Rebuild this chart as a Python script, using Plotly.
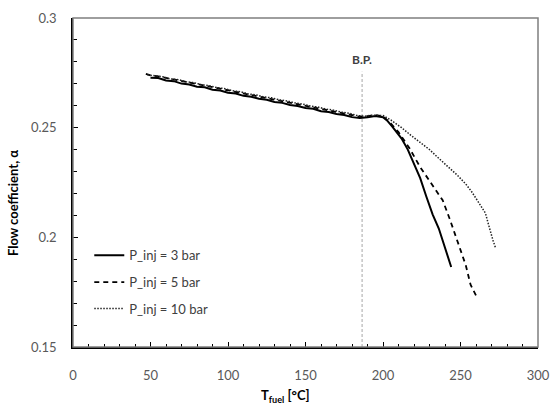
import plotly.graph_objects as go

# ---- data ----
t_3bar = [50, 55, 60, 65, 70, 75, 80, 85, 90, 95, 100, 105, 110, 115, 120, 125, 130, 135, 140,
          145, 150, 155, 160, 165, 170, 175, 180, 185, 190, 195, 200, 203, 206, 209, 212, 216,
          220, 224, 228, 232, 236, 239, 242, 244]
a_3bar = [0.2728, 0.2726, 0.2715, 0.2712, 0.2701, 0.2697, 0.2687, 0.2684, 0.2673, 0.2669,
          0.2659, 0.2656, 0.2645, 0.2641, 0.2632, 0.2627, 0.2617, 0.2613, 0.2603, 0.2599,
          0.2590, 0.2586, 0.2575, 0.2571, 0.2562, 0.2558, 0.2548, 0.2544, 0.2548, 0.2553,
          0.2548, 0.2530, 0.2505, 0.2478, 0.2450, 0.2400, 0.2335, 0.2270, 0.2185, 0.2105,
          0.2040, 0.1975, 0.1910, 0.1865]

t_5bar = [47, 50, 55, 60, 65, 70, 75, 80, 85, 90, 95, 100, 105, 110, 115, 120, 125, 130, 135,
          140, 145, 150, 155, 160, 165, 170, 175, 180, 185, 190, 195, 200, 205, 210, 217, 224,
          231, 238.5, 243, 247, 250, 253.4, 256.5, 259, 260.8]
a_5bar = [0.2745, 0.2738, 0.2734, 0.2727, 0.2717, 0.2713, 0.2703, 0.2699, 0.2690, 0.2685,
          0.2675, 0.2671, 0.2661, 0.2657, 0.2648, 0.2643, 0.2634, 0.2629, 0.2619, 0.2615,
          0.2606, 0.2601, 0.2593, 0.2587, 0.2577, 0.2573, 0.2563, 0.2559, 0.2550, 0.2553,
          0.2557, 0.2552, 0.2520, 0.2480, 0.2407, 0.2320, 0.2245, 0.2169, 0.2085, 0.2006,
          0.1945, 0.1873, 0.1784, 0.1750, 0.1724]

t_10bar = [48, 53, 58, 63, 68, 73, 78, 83, 88, 93, 98, 103, 108, 113, 118, 123, 128, 133, 138,
           143, 148, 153, 158, 163, 168, 173, 178, 183, 188, 193, 198, 200, 205, 212, 218,
           223.6, 230, 236, 242.7, 248, 253.4, 257, 260.8, 264, 266.1, 268, 269.3, 271, 272.5]
a_10bar = [0.2741, 0.2738, 0.2732, 0.2722, 0.2719, 0.2709, 0.2705, 0.2696, 0.2691, 0.2682,
           0.2678, 0.2668, 0.2664, 0.2654, 0.2650, 0.2640, 0.2636, 0.2627, 0.2622, 0.2613,
           0.2608, 0.2599, 0.2594, 0.2585, 0.2580, 0.2571, 0.2566, 0.2556, 0.2552, 0.2557,
           0.2557, 0.2555, 0.2535, 0.2500, 0.2465, 0.2436, 0.2400, 0.2360, 0.2318, 0.2283,
           0.2243, 0.2210, 0.2169, 0.2130, 0.2110, 0.2060, 0.2021, 0.1985, 0.1954]

series_names = ["P_inj = 3 bar", "P_inj = 5 bar", "P_inj = 10 bar"]
bp_temp = 186.5
bp_line_y = [0.15, 0.2755]
bp_label = "B.P."
bp_label_y = 0.2813

x_ticks = [0, 50, 100, 150, 200, 250, 300]
y_ticks = [0.15, 0.2, 0.25, 0.3]
y_tick_text = ["0.15", "0.2", "0.25", "0.3"]

FONT = "Lato, 'Open Sans', sans-serif"
TICK_COLOR = "#595959"

fig = go.Figure()

fig.add_trace(go.Scatter(x=[bp_temp, bp_temp], y=bp_line_y, mode="lines",
                         line=dict(color="#a6a6a6", width=1, dash="3px,2px"),
                         showlegend=False, hoverinfo="skip"))

fig.add_trace(go.Scatter(x=t_3bar, y=a_3bar, mode="lines", name=series_names[0],
                         line=dict(color="black", width=2), legend="legend"))
fig.add_trace(go.Scatter(x=t_5bar, y=a_5bar, mode="lines", name=series_names[1],
                         line=dict(color="black", width=1.8, dash="5px,4px"), legend="legend2"))
fig.add_trace(go.Scatter(x=t_10bar, y=a_10bar, mode="lines", name=series_names[2],
                         line=dict(color="#222222", width=1.5, dash="1.5px,1.5px"), legend="legend3"))

leg_common = dict(font=dict(family=FONT, size=13, color="#404040"), bgcolor="rgba(0,0,0,0)",
                  xanchor="left", yanchor="middle", itemwidth=30, tracegroupgap=0)

fig.add_annotation(x=bp_temp, y=bp_label_y, text="<b>" + bp_label + "</b>", showarrow=False,
                   font=dict(family=FONT, size=12, color="#404040"), xanchor="center", yanchor="middle")

fig.add_annotation(xref="paper", yref="paper", x=-0.13, y=0.436, text="<b>Flow coefficient, α</b>",
                   textangle=-90, showarrow=False, font=dict(family=FONT, size=13, color="black"),
                   xanchor="center", yanchor="middle")
fig.add_annotation(xref="paper", yref="paper", x=0.457, y=-0.148,
                   text="<b>T<sub>fuel</sub> [°C]</b>", showarrow=False,
                   font=dict(family=FONT, size=13, color="black"), xanchor="center", yanchor="middle")

fig.update_layout(
    width=560, height=405,
    margin=dict(l=73, r=17, t=10, b=58),
    paper_bgcolor="white", plot_bgcolor="white",
    font=dict(family=FONT, size=13, color=TICK_COLOR),
    legend=dict(x=0.035, y=0.279, **leg_common),
    legend2=dict(x=0.035, y=0.197, **leg_common),
    legend3=dict(x=0.035, y=0.117, **leg_common),
    shapes=[dict(type="rect", xref="paper", yref="paper", x0=0, y0=0, x1=1, y1=1,
                 line=dict(color="#7f7f7f", width=1.5))],
)

fig.update_xaxes(range=[0, 300], tickvals=x_ticks, showgrid=False, zeroline=False,
                 showline=True, linecolor="black", linewidth=1.5,
                 ticks="inside", ticklen=5, tickcolor="black", tickwidth=1,
                 minor=dict(ticks="inside", dtick=10, ticklen=3, tickcolor="black", showgrid=False),
                 tickfont=dict(family=FONT, size=13, color=TICK_COLOR), ticklabelstandoff=16)
fig.update_yaxes(range=[0.15, 0.3], tickvals=y_ticks, ticktext=y_tick_text, showgrid=False,
                 zeroline=False, showline=True, linecolor="black", linewidth=1.5,
                 ticks="inside", ticklen=5, tickcolor="black", tickwidth=1,
                 minor=dict(ticks="inside", dtick=0.01, ticklen=4, tickcolor="black", showgrid=False),
                 tickfont=dict(family=FONT, size=13, color=TICK_COLOR), ticklabelstandoff=12)

fig.write_html("out.html")
